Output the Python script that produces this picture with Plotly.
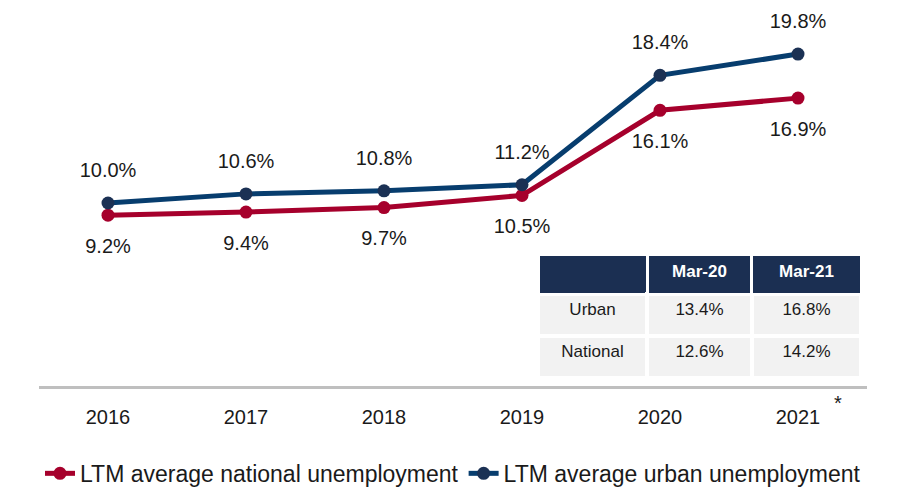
import plotly.graph_objects as go

years = ["2016", "2017", "2018", "2019", "2020", "2021"]
national = [9.2, 9.4, 9.7, 10.5, 16.1, 16.9]
urban = [10.0, 10.6, 10.8, 11.2, 18.4, 19.8]

table_header = ["", "Mar-20", "Mar-21"]
table_rows = ["Urban", "National"]
table_mar20 = ["13.4%", "12.6%"]
table_mar21 = ["16.8%", "14.2%"]

RED = "#A6002C"
BLUE_LINE = "#073D6E"
BLUE_MARK = "#1B3154"
NAVY = "#1B2F52"
FONT = "Liberation Sans, Arial, sans-serif"
TXT = "#1a1a1a"

fig = go.Figure()
fig.add_trace(go.Scatter(
    x=years, y=national, mode="lines+markers",
    name="LTM average national unemployment",
    line=dict(color=RED, width=5),
    marker=dict(color=RED, size=13),
))
fig.add_trace(go.Scatter(
    x=years, y=urban, mode="lines+markers",
    name="LTM average urban unemployment",
    line=dict(color=BLUE_LINE, width=5),
    marker=dict(color=BLUE_MARK, size=13),
))
# data labels
fig.add_trace(go.Scatter(
    x=years, y=urban, mode="markers+text", showlegend=False, hoverinfo="skip",
    text=[f"{v:.1f}%" for v in urban], textposition="top center",
    marker=dict(size=32, color="rgba(0,0,0,0)"), cliponaxis=False,
    textfont=dict(size=20, color=TXT, family=FONT),
))
fig.add_trace(go.Scatter(
    x=years, y=national, mode="markers+text", showlegend=False, hoverinfo="skip",
    text=[f"{v:.1f}%" for v in national], textposition="bottom center",
    marker=dict(size=35, color="rgba(0,0,0,0)"), cliponaxis=False,
    textfont=dict(size=20, color=TXT, family=FONT),
))

fig.add_trace(go.Table(
    domain=dict(x=[(538 - 39) / 828, (862 - 39) / 828], y=[(386 - 382) / 366, (386 - 254) / 366]),
    columnwidth=[107, 103, 107],
    header=dict(values=[f"<b>{h}</b>" for h in table_header],
                fill_color=NAVY, line=dict(color="white", width=3),
                align="center", height=40,
                font=dict(color="white", size=17, family=FONT)),
    cells=dict(values=[table_rows, table_mar20, table_mar21],
               fill_color="#F2F2F2", line=dict(color="white", width=4),
               align="center", height=42,
               font=dict(color=TXT, size=17, family=FONT)),
))

fig.update_layout(
    width=900, height=510,
    margin=dict(l=31, r=41, t=12, b=132),
    paper_bgcolor="white", plot_bgcolor="white",
    font=dict(family=FONT, color=TXT),
    showlegend=True,
    legend=dict(orientation="h", x=0.5, xanchor="center", y=-0.18, yanchor="top",
                font=dict(size=23, family=FONT, color=TXT),
                itemwidth=30, traceorder="normal"),
    annotations=[dict(x=(838 - 39) / 828, y=(386 - 403) / 366, xref="paper", yref="paper",
                      text="*", showarrow=False, xanchor="center", yanchor="middle",
                      font=dict(size=20, color=TXT, family=FONT))],
    xaxis=dict(type="category", range=[-0.5, 5.5], showgrid=False, zeroline=False,
               showline=True, linecolor="#BFBFBF", linewidth=3,
               ticks="", tickfont=dict(size=20, family=FONT, color=TXT),
               ticklabelstandoff=11),
    yaxis=dict(range=[-2.04, 22.04], visible=False, showgrid=False, zeroline=False),
)

fig.write_html("out.html")
